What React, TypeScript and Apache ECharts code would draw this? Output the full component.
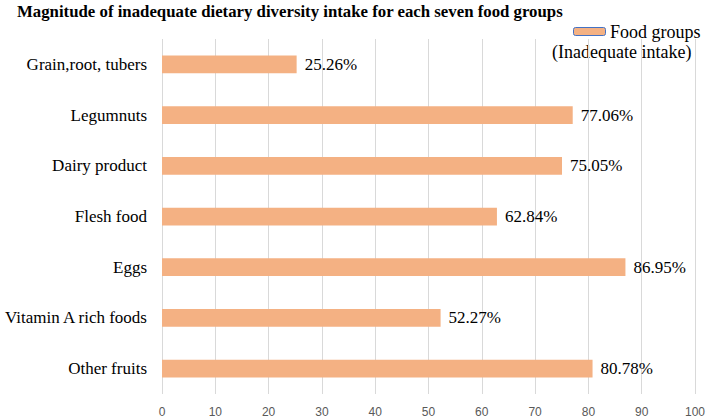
import React, { useEffect, useRef } from "react";
import * as echarts from "echarts";

const categories = [
  "Grain,root, tubers",
  "Legumnuts",
  "Dairy product",
  "Flesh food",
  "Eggs",
  "Vitamin A rich foods",
  "Other fruits",
];
const values = [25.26, 77.06, 75.05, 62.84, 86.95, 52.27, 80.78];
const seriesName = "Food groups (Inadequate intake)";
const titleText = "Magnitude of inadequate dietary diversity intake for each seven food groups";
const legendLine1 = "Food groups";
const legendLine2 = "(Inadequate intake)";

const SERIF = "'Liberation Serif', 'Times New Roman', serif";

export default function App() {
  const ref = useRef<HTMLDivElement>(null);
  useEffect(() => {
    const chart = echarts.init(ref.current!, undefined, { renderer: "svg" });
    chart.setOption({
      animation: false,
      backgroundColor: "#ffffff",
      textStyle: { fontFamily: SERIF },
      title: {
        text: titleText,
        left: 17,
        top: 3,
        padding: 0,
        textStyle: {
          fontFamily: SERIF,
          fontWeight: "bold",
          fontSize: 16.8,
          color: "#000",
        },
      },
      grid: { left: 162, right: 12, top: 39, height: 357 },
      xAxis: {
        type: "value",
        min: 0,
        max: 100,
        interval: 10,
        axisLine: { show: false },
        axisTick: { show: false },
        axisLabel: {
          color: "#595959",
          fontFamily: "'Liberation Sans', sans-serif",
          fontSize: 12,
          margin: 12,
        },
        splitLine: { show: true, lineStyle: { color: "#d9d9d9", width: 1 } },
      },
      yAxis: {
        type: "category",
        data: categories,
        inverse: true,
        axisLine: { show: false },
        axisTick: { show: false },
        axisLabel: {
          color: "#000",
          fontFamily: SERIF,
          fontSize: 17,
          margin: 15,
        },
      },
      series: [
        {
          type: "bar",
          name: seriesName,
          data: values,
          barWidth: "35%",
          itemStyle: { color: "#F4B183" },
          label: {
            show: true,
            position: "right",
            distance: 8,
            formatter: (p: any) => "{v|" + p.value.toFixed(2) + "%}",
            color: "#000",
            fontFamily: SERIF,
            fontSize: 17,
            rich: {
              v: { fontFamily: SERIF, fontSize: 17, color: "#000" },
            },
          },
        },
      ],
      graphic: [
        {
          type: "rect",
          left: 573,
          top: 27,
          shape: { width: 32, height: 8, r: 2 },
          style: { fill: "#F4B183", stroke: "#4472C4", lineWidth: 1 },
        },
        {
          type: "text",
          left: 610,
          top: 23,
          style: {
            text: legendLine1,
            fill: "#000",
            font: "18px 'Liberation Serif'",
          },
        },
        {
          type: "text",
          left: 552,
          top: 43,
          style: {
            text: legendLine2,
            fill: "#000",
            font: "18px 'Liberation Serif'",
          },
        },
      ],
    });
    return () => chart.dispose();
  }, []);
  return <div ref={ref} style={{ width: 708, height: 418, position: "absolute", left: 0, top: 0 }} />;
}
